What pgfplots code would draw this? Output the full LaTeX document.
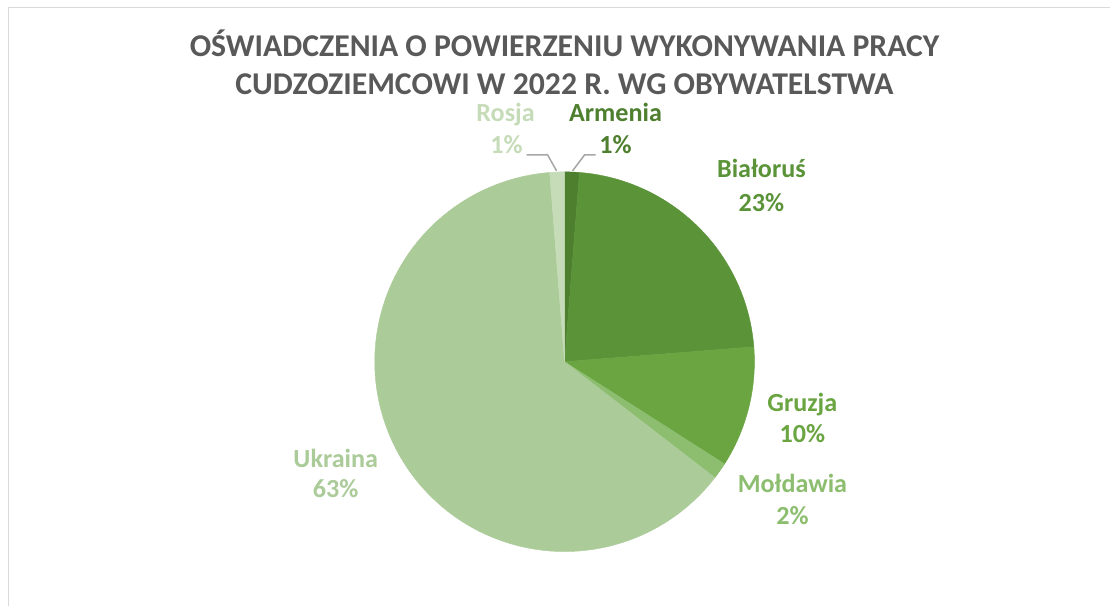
\documentclass[border=0pt]{standalone}
\usepackage{pgfplots}
\pgfplotsset{compat=1.18}
\usepackage{fontspec}
\setmainfont{Carlito}
\definecolor{cArm}{HTML}{4E7F2F}
\definecolor{cBia}{HTML}{5B9339}
\definecolor{cGru}{HTML}{6AA542}
\definecolor{cMol}{HTML}{8DBE6F}
\definecolor{cUkr}{HTML}{ABCB99}
\definecolor{cRos}{HTML}{C6DCB9}
\definecolor{cTitle}{HTML}{595959}
\definecolor{cFrame}{HTML}{D9D9D9}
\definecolor{cLead}{HTML}{A6A6A6}
\newcommand\cum{0}
\newcommand\slice[2]{%
  \pgfmathsetmacro\sa{90-3.6*\cum}%
  \pgfmathsetmacro\sb{90-3.6*(\cum+#1)}%
  \pgfmathsetmacro\newcum{\cum+#1}%
  \xdef\cum{\newcum}%
  \edef\doslice{\noexpand\addplot[fill=#2, draw=#2, line width=0.3pt, domain=\sb:\sa, samples=90] ({565+190*cos(x)},{362-190*sin(x)}) -- (axis cs:565,362) -- cycle;}%
  \doslice
}
\begin{document}
\begin{tikzpicture}
\begin{axis}[hide axis, scale only axis, width=833.25pt, height=454.5pt,
  xmin=0, xmax=1111, ymin=0, ymax=606, y dir=reverse, clip=false]
\fill[white] (axis cs:0,0) rectangle (axis cs:1111,606);
\draw[cFrame, line width=1.3pt] (axis cs:8.5,606) -- (axis cs:8.5,7.5) -- (axis cs:1111,7.5);
% shares (percent), clockwise from 12 o'clock
\slice{1.25}{cArm}  % Armenia
\slice{22.5}{cBia}  % Bialorus
\slice{10.3}{cGru}  % Gruzja
\slice{1.4}{cMol}   % Moldawia
\slice{63.3}{cUkr}  % Ukraina
\slice{1.25}{cRos}  % Rosja
% leader lines
\draw[cLead, line width=1.1pt] (axis cs:527,155) -- (axis cs:548,155) -- (axis cs:557,171);
\draw[cLead, line width=1.1pt] (axis cs:596,155) -- (axis cs:585,155) -- (axis cs:573,171);
% title
\node[anchor=base, text=cTitle, font=\fontsize{23.8}{28}\selectfont\bfseries] at (axis cs:565,57) {OŚWIADCZENIA O POWIERZENIU WYKONYWANIA PRACY};
\node[anchor=base, text=cTitle, font=\fontsize{23.8}{28}\selectfont\bfseries] at (axis cs:565,95) {CUDZOZIEMCOWI W 2022 R. WG OBYWATELSTWA};
% labels
\tikzset{lab/.style={anchor=base, font=\fontsize{19.6}{23}\selectfont\bfseries}}
\node[lab, text=cRos] at (axis cs:506,122) {Rosja};
\node[lab, text=cRos] at (axis cs:507,154) {1\%};
\node[lab, text=cArm] at (axis cs:616,122) {Armenia};
\node[lab, text=cArm] at (axis cs:616,154) {1\%};
\node[lab, text=cBia] at (axis cs:762,178) {Białoruś};
\node[lab, text=cBia] at (axis cs:762,212) {23\%};
\node[lab, text=cGru] at (axis cs:803,412) {Gruzja};
\node[lab, text=cGru] at (axis cs:803,443) {10\%};
\node[lab, text=cMol] at (axis cs:793,493) {Mołdawia};
\node[lab, text=cMol] at (axis cs:793,525) {2\%};
\node[lab, text=cUkr] at (axis cs:336,468) {Ukraina};
\node[lab, text=cUkr] at (axis cs:336,498) {63\%};
\end{axis}
\end{tikzpicture}
\end{document}
